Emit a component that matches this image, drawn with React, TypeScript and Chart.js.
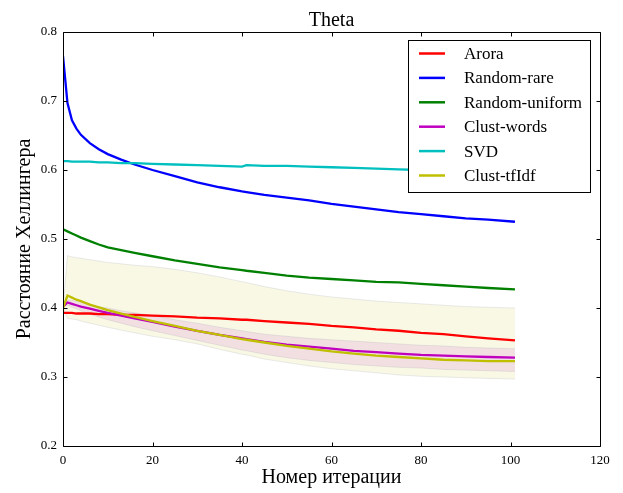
import React, { useEffect, useRef } from 'react';
import { Chart, registerables } from 'chart.js';

Chart.register(...registerables);

// Iteration numbers at which the distances were sampled
const iterations = [0, 1, 2, 3, 4, 6, 8, 10, 13, 16, 20, 25, 30, 35, 40, 41, 45, 50, 55, 60, 65, 70, 75, 80, 85, 90, 95, 101];

const arora = [0.393, 0.393, 0.393, 0.392, 0.392, 0.392, 0.391, 0.391, 0.390, 0.390, 0.389, 0.388, 0.386, 0.385, 0.383, 0.383, 0.381, 0.379, 0.377, 0.374, 0.372, 0.369, 0.367, 0.364, 0.362, 0.359, 0.356, 0.353];
const randomRare = [0.765, 0.697, 0.672, 0.660, 0.651, 0.639, 0.630, 0.623, 0.615, 0.608, 0.600, 0.591, 0.582, 0.575, 0.569, 0.568, 0.564, 0.560, 0.556, 0.551, 0.547, 0.543, 0.539, 0.536, 0.533, 0.530, 0.528, 0.525];
const randomUniform = [0.514, 0.511, 0.508, 0.505, 0.502, 0.497, 0.492, 0.488, 0.484, 0.480, 0.475, 0.469, 0.464, 0.459, 0.455, 0.454, 0.451, 0.447, 0.444, 0.442, 0.440, 0.438, 0.437, 0.435, 0.433, 0.431, 0.429, 0.427];
const clustWords = [0.402, 0.408, 0.406, 0.404, 0.402, 0.399, 0.396, 0.393, 0.389, 0.385, 0.380, 0.373, 0.367, 0.361, 0.356, 0.355, 0.351, 0.347, 0.344, 0.341, 0.338, 0.336, 0.334, 0.332, 0.331, 0.330, 0.329, 0.328];
const svd = [0.613, 0.613, 0.612, 0.612, 0.612, 0.612, 0.611, 0.611, 0.610, 0.610, 0.609, 0.608, 0.607, 0.606, 0.605, 0.607, 0.606, 0.606, 0.605, 0.604, 0.603, 0.602, 0.601, 0.600, 0.600, 0.599, 0.599, 0.598];
const clustTfIdf = [0.400, 0.418, 0.415, 0.412, 0.410, 0.405, 0.401, 0.397, 0.392, 0.387, 0.381, 0.374, 0.367, 0.361, 0.355, 0.354, 0.350, 0.345, 0.341, 0.337, 0.334, 0.331, 0.329, 0.327, 0.325, 0.324, 0.323, 0.323];

// Spread bands (upper / lower bounds)
const clustTfIdfUpper = [0.400, 0.476, 0.474, 0.473, 0.472, 0.470, 0.468, 0.466, 0.464, 0.462, 0.460, 0.456, 0.451, 0.445, 0.438, 0.437, 0.431, 0.425, 0.420, 0.416, 0.413, 0.410, 0.408, 0.406, 0.404, 0.402, 0.401, 0.400];
const clustTfIdfLower = [0.400, 0.385, 0.384, 0.383, 0.381, 0.378, 0.375, 0.372, 0.368, 0.364, 0.359, 0.354, 0.348, 0.340, 0.333, 0.332, 0.326, 0.321, 0.316, 0.312, 0.309, 0.306, 0.303, 0.301, 0.300, 0.299, 0.298, 0.297];
const clustWordsUpper = [0.402, 0.412, 0.411, 0.410, 0.408, 0.405, 0.402, 0.400, 0.396, 0.393, 0.389, 0.383, 0.378, 0.372, 0.367, 0.366, 0.362, 0.359, 0.356, 0.354, 0.352, 0.350, 0.348, 0.346, 0.345, 0.343, 0.342, 0.341];
const clustWordsLower = [0.402, 0.404, 0.401, 0.399, 0.396, 0.391, 0.387, 0.383, 0.378, 0.373, 0.367, 0.360, 0.353, 0.346, 0.339, 0.338, 0.333, 0.328, 0.324, 0.321, 0.318, 0.316, 0.314, 0.313, 0.311, 0.310, 0.309, 0.308];

const xTicks = [0, 20, 40, 60, 80, 100, 120];
const yTicks = [0.2, 0.3, 0.4, 0.5, 0.6, 0.7, 0.8];

const series = [
  { label: 'Arora', values: arora, color: '#ff0000' },
  { label: 'Random-rare', values: randomRare, color: '#0000ff' },
  { label: 'Random-uniform', values: randomUniform, color: '#008000' },
  { label: 'Clust-words', values: clustWords, color: '#bf00bf' },
  { label: 'SVD', values: svd, color: '#00bfbf' },
  { label: 'Clust-tfIdf', values: clustTfIdf, color: '#bfbf00' },
];

const SERIF = '"Liberation Serif", "Times New Roman", serif';

const toPoints = (values: number[]) => values.map((v, i) => ({ x: iterations[i], y: v }));

// Frame, inward ticks on all sides, title and legend box
const decorPlugin = {
  id: 'decor',
  afterDatasetsDraw(chart: any) {
    const { ctx, chartArea: a, scales } = chart;
    const xs = scales.x;
    const ys = scales.y;
    ctx.save();
    ctx.strokeStyle = '#000';
    ctx.lineWidth = 1;
    ctx.beginPath();
    const L = a.left + 0.5, R = a.right + 0.5, T = a.top + 0.5, B = a.bottom + 0.5;
    ctx.rect(L, T, R - L, B - T);
    const tl = 4;
    xTicks.forEach((v) => {
      const px = Math.round(xs.getPixelForValue(v)) + 0.5;
      ctx.moveTo(px, B); ctx.lineTo(px, B - tl);
      ctx.moveTo(px, T); ctx.lineTo(px, T + tl);
    });
    yTicks.forEach((v) => {
      const py = Math.round(ys.getPixelForValue(v)) + 0.5;
      ctx.moveTo(L, py); ctx.lineTo(L + tl, py);
      ctx.moveTo(R, py); ctx.lineTo(R - tl, py);
    });
    ctx.stroke();

    // title
    ctx.fillStyle = '#000';
    ctx.font = `20px ${SERIF}`;
    ctx.textAlign = 'center';
    ctx.textBaseline = 'alphabetic';
    ctx.fillText('Theta', (a.left + a.right) / 2, 26);

    // legend
    const lx = 408.5, ly = 40.5, lw = 182, lh = 152;
    ctx.fillStyle = '#fff';
    ctx.fillRect(lx, ly, lw, lh);
    ctx.strokeStyle = '#000';
    ctx.strokeRect(lx, ly, lw, lh);
    ctx.font = `17px ${SERIF}`;
    ctx.textAlign = 'left';
    ctx.textBaseline = 'middle';
    series.forEach((s, i) => {
      const ry = 53.5 + i * 24.4;
      ctx.strokeStyle = s.color;
      ctx.lineWidth = 2.5;
      ctx.beginPath();
      ctx.moveTo(419, ry);
      ctx.lineTo(445, ry);
      ctx.stroke();
      ctx.fillStyle = '#000';
      ctx.fillText(s.label, 464, ry + 1);
    });
    ctx.restore();
  },
};

export default function App() {
  const canvasRef = useRef<HTMLCanvasElement | null>(null);

  useEffect(() => {
    const canvas = canvasRef.current;
    if (!canvas) return;

    const bandStyle = (fillColor: string, fill: any, order: number) => ({
      borderColor: 'rgba(120,120,150,0.15)',
      borderWidth: 1,
      backgroundColor: fillColor,
      pointRadius: 0,
      fill,
      order,
      tension: 0,
    });

    const datasets: any[] = [
      { label: 'tfIdfUpper', data: toPoints(clustTfIdfUpper), ...bandStyle('rgba(191,191,0,0.1)', '+1', 20) },
      { label: 'tfIdfLower', data: toPoints(clustTfIdfLower), ...bandStyle('rgba(191,191,0,0.1)', false, 19) },
      { label: 'wordsUpper', data: toPoints(clustWordsUpper), ...bandStyle('rgba(191,0,191,0.1)', '+1', 18) },
      { label: 'wordsLower', data: toPoints(clustWordsLower), ...bandStyle('rgba(191,0,191,0.1)', false, 17) },
      ...series.map((s, i) => ({
        label: s.label,
        data: toPoints(s.values),
        borderColor: s.color,
        backgroundColor: s.color,
        borderWidth: 2.3,
        pointRadius: 0,
        fill: false,
        tension: 0,
        order: 6 - i,
      })),
    ];

    const chart = new Chart(canvas, {
      type: 'line',
      data: { datasets },
      plugins: [decorPlugin],
      options: {
        animation: false,
        responsive: false,
        devicePixelRatio: 1,
        events: [],
        layout: { padding: { top: 32, right: 23, left: 0, bottom: 0 } },
        plugins: {
          legend: { display: false },
          title: { display: false },
          tooltip: { enabled: false },
        },
        scales: {
          x: {
            type: 'linear',
            min: 0,
            max: 120,
            grid: { display: false, drawTicks: false },
            border: { display: false },
            afterFit: (scale: any) => { scale.height = 47; },
            ticks: {
              stepSize: 20,
              padding: 7,
              color: '#000',
              font: { family: SERIF, size: 13 },
              maxRotation: 0,
              callback: (v: any) => String(v),
            },
            title: {
              display: true,
              text: 'Номер итерации',
              color: '#000',
              font: { family: SERIF, size: 20 },
              padding: { top: 0, bottom: 3 },
            },
          },
          y: {
            type: 'linear',
            min: 0.2,
            max: 0.8,
            grid: { display: false, drawTicks: false },
            border: { display: false },
            afterFit: (scale: any) => { scale.width = 63; },
            ticks: {
              stepSize: 0.1,
              padding: 6,
              color: '#000',
              font: { family: SERIF, size: 13 },
              callback: (v: any) => Number(v).toFixed(1),
            },
            title: {
              display: true,
              text: 'Расстояние Хеллингера',
              color: '#000',
              font: { family: SERIF, size: 20 },
              padding: { top: 13, bottom: 0 },
            },
          },
        },
      },
    });

    return () => chart.destroy();
  }, []);

  return (
    <div style={{ position: 'fixed', left: 0, top: 0, width: 623, height: 493, background: '#fff' }}>
      <canvas ref={canvasRef} width={623} height={493} style={{ display: 'block', width: 623, height: 493 }} />
    </div>
  );
}
